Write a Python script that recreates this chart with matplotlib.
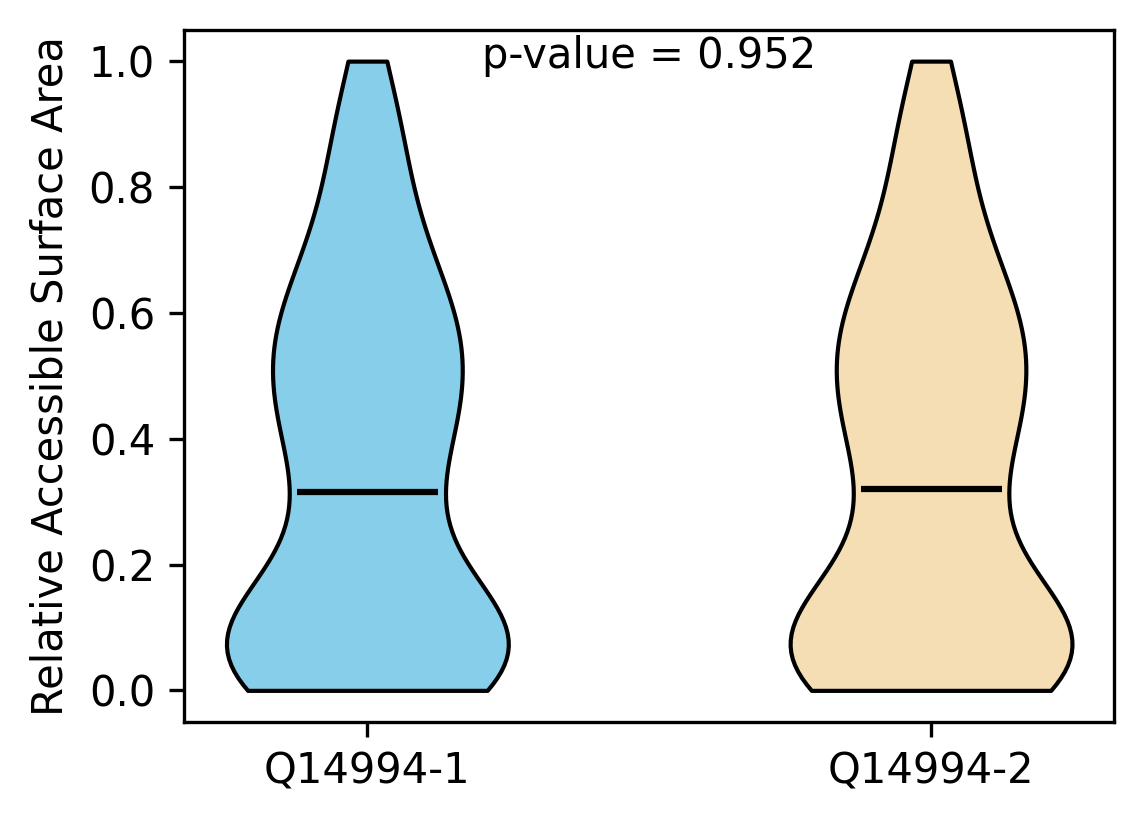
import matplotlib
matplotlib.use("Agg")
import matplotlib.pyplot as plt

# isoform names and RSA values per residue
isoforms = ["Q14994-1", "Q14994-2"]
colors = ["skyblue", "wheat"]
p_value = 0.952

rsa_iso1 = [
    0.0, 0.0, 0.0, 0.0, 0.011, 0.013, 0.017,
    0.021, 0.024, 0.019, 0.028, 0.031, 0.034, 0.029, 0.038, 0.042, 0.044,
    0.047, 0.039, 0.051, 0.053, 0.049, 0.056, 0.061, 0.058, 0.064, 0.062,
    0.069, 0.072, 0.067, 0.074, 0.081, 0.078, 0.085, 0.088, 0.093, 0.096,
    0.101, 0.099, 0.104, 0.117, 0.123, 0.121, 0.138, 0.143, 0.157, 0.164,
    0.192, 0.250, 0.280, 0.305,
    0.215, 0.260, 0.290, 0.310, 0.320, 0.333, 0.348, 0.362, 0.374, 0.385,
    0.396, 0.406, 0.416, 0.425, 0.434, 0.443, 0.451, 0.459, 0.467, 0.475,
    0.483, 0.490, 0.498, 0.505, 0.513, 0.520, 0.527, 0.535, 0.542, 0.550,
    0.557, 0.565, 0.573, 0.581, 0.589, 0.597, 0.606, 0.615, 0.624, 0.634,
    0.644, 0.655, 0.666, 0.678, 0.692, 0.706, 0.722, 0.745, 0.770, 0.805,
    0.872,
    0.80, 0.84, 0.87, 0.89, 0.91, 0.94, 0.97, 1.00,
]

rsa_iso2 = [
    0.0, 0.0, 0.0, 0.0, 0.011, 0.013, 0.017,
    0.021, 0.024, 0.019, 0.028, 0.031, 0.034, 0.029, 0.038, 0.042, 0.044,
    0.047, 0.039, 0.051, 0.053, 0.049, 0.056, 0.061, 0.058, 0.064, 0.062,
    0.069, 0.072, 0.067, 0.074, 0.081, 0.078, 0.085, 0.088, 0.093, 0.096,
    0.101, 0.099, 0.104, 0.117, 0.123, 0.121, 0.138, 0.143, 0.157, 0.164,
    0.192, 0.240, 0.270, 0.300,
    0.215, 0.260, 0.290, 0.318, 0.322, 0.336, 0.350, 0.363, 0.374, 0.385,
    0.396, 0.406, 0.416, 0.425, 0.434, 0.443, 0.451, 0.459, 0.467, 0.475,
    0.483, 0.490, 0.498, 0.505, 0.513, 0.520, 0.527, 0.535, 0.542, 0.550,
    0.557, 0.565, 0.573, 0.581, 0.589, 0.597, 0.606, 0.615, 0.624, 0.634,
    0.644, 0.655, 0.666, 0.678, 0.692, 0.706, 0.722, 0.745, 0.770, 0.805,
    0.872,
    0.80, 0.84, 0.87, 0.89, 0.91, 0.94, 0.97, 1.00,
]

fig, ax = plt.subplots(figsize=(3.8133, 2.7467), dpi=300)
fig.subplots_adjust(left=0.161, right=0.974, top=0.964, bottom=0.124)

parts = ax.violinplot([rsa_iso1, rsa_iso2], positions=[1, 2],
                      showmedians=True, showextrema=False)
for body, c in zip(parts["bodies"], colors):
    body.set_facecolor(c)
    body.set_edgecolor("black")
    body.set_linewidth(1.0)
    body.set_alpha(1)
parts["cmedians"].set_color("black")
parts["cmedians"].set_linewidth(1.5)

ax.set_xticks([1, 2])
ax.set_xticklabels(isoforms)
ax.set_ylabel("Relative Accessible Surface Area")
ax.text(0.5, 0.992, f"p-value = {p_value}", transform=ax.transAxes,
        ha="center", va="top")

fig.savefig("out.png", dpi=300)
